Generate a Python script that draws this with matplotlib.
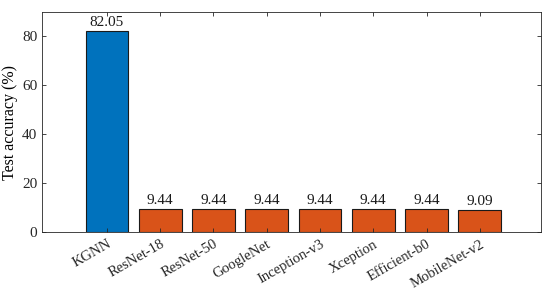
import matplotlib
matplotlib.use('Agg')
import matplotlib.pyplot as plt
import numpy as np

# data
models = ['KGNN', 'ResNet-18', 'ResNet-50', 'GoogleNet', 'Inception-v3',
          'Xception', 'Efficient-b0', 'MobileNet-v2']
accuracy = [82.05, 9.44, 9.44, 9.44, 9.44, 9.44, 9.44, 9.09]
colors = ['#0072BD'] + ['#D95319'] * 7

plt.rcParams['font.family'] = ['Liberation Serif', 'DejaVu Serif']
plt.rcParams['font.size'] = 11

fig = plt.figure(figsize=(5.5, 2.89), dpi=100)
ax = fig.add_axes([42 / 550, 1 - 232 / 289, (541 - 42) / 550, (232 - 12) / 289])

x = np.arange(1, len(models) + 1)
bars = ax.bar(x, accuracy, width=0.8, color=colors, edgecolor='#1a1a1a', linewidth=0.8)

for xi, v in zip(x, accuracy):
    ax.text(xi, v + 0.9, f'{v:.2f}', ha='center', va='bottom', fontsize=11, color='#1a1a1a')

ax.set_xlim(-0.22, 9.15)
ax.set_ylim(0, 90)
ax.set_yticks([0, 20, 40, 60, 80])
ax.set_xticks(x)
ax.set_xticklabels(models, rotation=30, ha='right', rotation_mode='anchor', fontsize=10.5)
ax.set_ylabel('Test accuracy (%)', fontsize=11.5)
ax.yaxis.set_label_coords(-0.048, 0.5)

ax.tick_params(direction='in', top=True, right=True, length=3, width=0.6,
               colors='#262626', labelcolor='#262626')
ax.tick_params(axis='x', pad=4)
for s in ax.spines.values():
    s.set_linewidth(0.6)
    s.set_color('#262626')

fig.savefig('out.png', dpi=100)
